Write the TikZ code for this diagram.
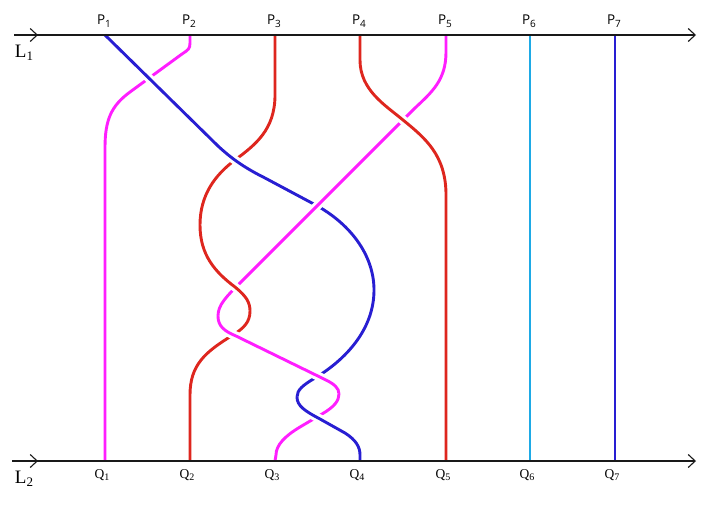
\documentclass[tikz,border=0pt]{standalone}
\usepackage{fontspec}
\setmainfont{Liberation Serif}
\newfontfamily\psans{Open Sans}
\usetikzlibrary{arrows.meta}
\definecolor{mg}{RGB}{255,30,255}
\definecolor{rd}{RGB}{222,38,30}
\definecolor{bl}{RGB}{40,30,210}
\definecolor{cy}{RGB}{30,170,230}
\definecolor{axc}{RGB}{25,25,25}
\newcommand{\sublab}[3]{#1\raisebox{-0.35ex}{\fontsize{#3}{#3}\selectfont #2}}
\begin{document}
\begin{tikzpicture}[x=1pt,y=-1pt,
  strand/.style={line width=2.9pt, preaction={draw=white,line width=9pt}},
  plain/.style={line width=2.9pt},
  axis/.style={line width=1.1pt, draw=axc},
  tip/.style={-{Straight Barb[length=7pt,width=13pt]}},
  plab/.style={font=\psans\fontsize{13.5}{15}\selectfont, inner sep=0pt},
  qlab/.style={font=\fontsize{13.5}{15}\selectfont, inner sep=0pt},
  llab/.style={font=\fontsize{19}{21}\selectfont, inner sep=0pt}]
\useasboundingbox (0,0) rectangle (709,509);
% end points
\foreach \i/\x in {1/105,2/190,3/275,4/360,5/446,6/530,7/615}{
  \coordinate (p\i) at (\x,35);
  \coordinate (q\i) at (\x,461);
}
% magenta A: P2 -> Q1
\draw[strand,mg] (p2) -- (190,43) .. controls (190,49) and (188,50) .. (182,54)
  -- (130,92) .. controls (111,106) and (105,120) .. (105,148) -- (q1);
% red A part 1
\draw[strand,rd] (p3) -- (275,95) .. controls (275,130) and (255,145) .. (235,160)
  .. controls (215,175) and (200,195) .. (200,225);
% blue P1 part 1
\draw[strand,bl] (p1) -- (218,146) .. controls (232,159) and (245,168) .. (265,178)
  -- (310,202) .. controls (350,222) and (374,255) .. (374,290)
  .. controls (374,330) and (345,360) .. (315,378)
  .. controls (303,385) and (297,390) .. (297,397);
% magenta B part 1
\draw[strand,mg] (p5) -- (446,52) .. controls (446,80) and (432,92) .. (415,108)
  -- (240,283) .. controls (226,297) and (218,305) .. (218,316);
% red B: P4 -> Q5
\draw[strand,rd] (p4) -- (360,60) .. controls (360,90) and (385,105) .. (403,120)
  .. controls (425,138) and (446,155) .. (446,195) -- (q5);
% red A part 2
\draw[strand,rd] (200,225) .. controls (200,255) and (215,272) .. (235,287)
  .. controls (246,296) and (250,302) .. (250,311);
% red A part 3
\draw[strand,rd] (250,311) .. controls (250,322) and (244,328) .. (233,335)
  .. controls (205,352) and (190,365) .. (190,395) -- (q2);
% magenta B part 2
\draw[strand,mg] (218,316) .. controls (218,326) and (224,331) .. (236,336)
  -- (326,380) .. controls (334,384) and (339,388) .. (339,394);
% magenta B part 3
\draw[strand,mg] (339,394) .. controls (339,401) and (334,407) .. (322,414)
  -- (300,427) .. controls (285,436) and (276,445) .. (276,455) -- (q3);
% blue P1 part 2
\draw[strand,bl] (297,397) .. controls (297,406) and (305,411) .. (320,419)
  -- (345,433) .. controls (356,440) and (360,447) .. (360,455) -- (q4);
% straight strands
\draw[plain,cy] (p6) -- (q6);
\draw[plain,bl] (p7) -- (q7);
% axes
\coordinate (a1l) at (14,35);  \coordinate (a1m) at (38,35);  \coordinate (a1r) at (696,35);
\coordinate (a2l) at (12,461); \coordinate (a2m) at (38,461); \coordinate (a2r) at (696,461);
\draw[axis,tip] (a1l) -- (a1r);
\draw[axis,tip] (a1l) -- (a1m);
\draw[axis,tip] (a2l) -- (a2r);
\draw[axis,tip] (a2l) -- (a2m);
% labels
\foreach \i/\x in {1/105,2/190,3/275,4/360,5/446,6/530,7/615}{
  \node[plab] (lp\i) at (\x-1,21) {\sublab{P}{\i}{10}};
  \node[qlab] (lq\i) at (\x-3,475) {\sublab{Q}{\i}{10}};
}
\node[llab] (l1) at (24,53) {\sublab{L}{1}{13}};
\node[llab] (l2) at (24,479) {\sublab{L}{2}{13}};
\end{tikzpicture}
\end{document}
